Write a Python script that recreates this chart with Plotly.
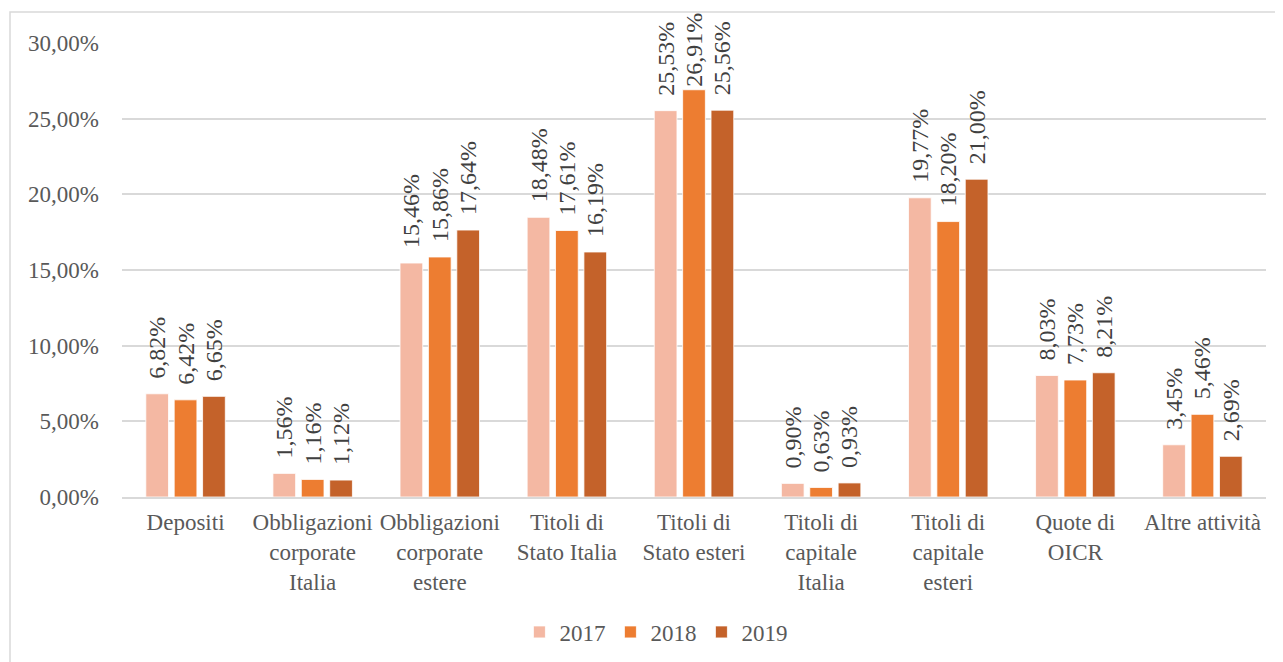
import plotly.graph_objects as go

categories = ["Depositi", "Obbligazioni<br>corporate<br>Italia", "Obbligazioni<br>corporate<br>estere",
              "Titoli di<br>Stato Italia", "Titoli di<br>Stato esteri", "Titoli di<br>capitale<br>Italia",
              "Titoli di<br>capitale<br>esteri", "Quote di<br>OICR", "Altre attività"]
years = ["2017", "2018", "2019"]
v2017 = [6.82, 1.56, 15.46, 18.48, 25.53, 0.90, 19.77, 8.03, 3.45]
v2018 = [6.42, 1.16, 15.86, 17.61, 26.91, 0.63, 18.20, 7.73, 5.46]
v2019 = [6.65, 1.12, 17.64, 16.19, 25.56, 0.93, 21.00, 8.21, 2.69]
series = [v2017, v2018, v2019]
colors = ["#F4B8A3", "#ED7D31", "#C4622A"]

FONT = "Liberation Serif"


def label(v):
    s = f"{v:.2f}".replace(".", ",") + "%"
    # labels near the top of the axis sit closer to the bar so they stay in view
    return s if v > 26 else "\u00a0\u00a0" + s


fig = go.Figure()
for name, vals, col in zip(years, series, colors):
    fig.add_trace(go.Bar(
        name=name, x=categories, y=[v / 100 for v in vals],
        marker=dict(color=col, line=dict(color="#FFFFFF", width=0.8)),
        text=[label(v) for v in vals],
        textposition="outside", textangle=-90, constraintext="none",
        cliponaxis=False,
        textfont=dict(family=FONT, size=24, color="#404040"),
        outsidetextfont=dict(family=FONT, size=24, color="#404040"),
    ))

# page offset of 8px (body margin) accounted for in the figure coordinates
x0p, x1p, y0p, y1p = 114, 1258, 35, 489
W, H = x1p - x0p, y1p - y0p
fig.add_shape(type="rect", xref="paper", yref="paper",
              x0=(2 - x0p) / W, x1=(1300 - x0p) / W,
              y0=(y1p - 720) / H, y1=(y1p - 4) / H,
              line=dict(color="#D9D9D9", width=1.5), fillcolor="rgba(0,0,0,0)", layer="below")

fig.update_layout(
    width=1283, height=662,
    margin=dict(l=x0p, r=1283 - x1p, t=y0p, b=662 - y1p, autoexpand=False),
    paper_bgcolor="white", plot_bgcolor="white",
    separators=",.",
    barmode="group", bargap=0.33, bargroupgap=0.2,
    font=dict(family=FONT, size=23, color="#595959"),
    showlegend=True,
    legend=dict(orientation="h", x=0.505, xref="container", xanchor="center",
                y=0.0574, yref="container", yanchor="middle",
                font=dict(family=FONT, size=23, color="#595959"), itemwidth=30,
                traceorder="normal"),
    xaxis=dict(showline=True, linecolor="#D9D9D9", linewidth=1.5, ticks="",
               automargin=False, ticklabelstandoff=4,
               tickfont=dict(family=FONT, size=23, color="#595959")),
    yaxis=dict(range=[0, 0.30], dtick=0.05, tickformat=".2%", showgrid=True,
               gridcolor="#D9D9D9", gridwidth=1.5, zeroline=False, showline=False,
               ticks="", ticklabelstandoff=22, automargin=False,
               tickfont=dict(family=FONT, size=23, color="#595959")),
)

fig.write_html("out.html")
